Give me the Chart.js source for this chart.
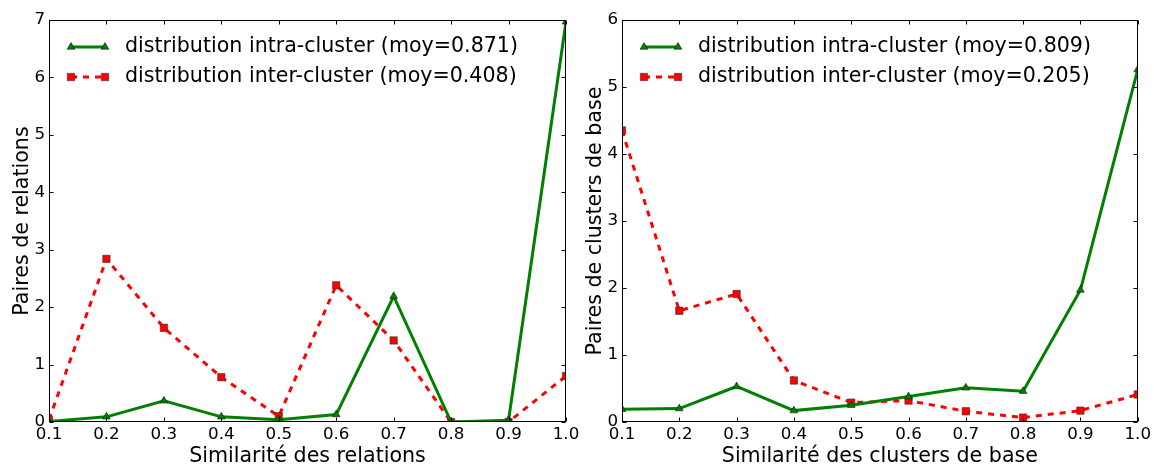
<!DOCTYPE html>
<html>
<head>
<meta charset="utf-8">
<script src="https://cdn.jsdelivr.net/npm/chart.js@4.4.1/dist/chart.umd.min.js"></script>
<style>
  body { margin: 0; background: #fff; width: 1154px; height: 465px; position: relative; overflow: hidden; }
  .panel { position: absolute; top: 0; height: 465px; }
  #leftPanel { left: 0; width: 600px; }
  #rightPanel { left: 577px; width: 577px; }
</style>
</head>
<body>
<div class="panel" id="leftPanel"><canvas id="relationsChart"></canvas></div>
<div class="panel" id="rightPanel"><canvas id="baseChart"></canvas></div>
<script>
// similarity bins (x axis)
const similarity = [0.1, 0.2, 0.3, 0.4, 0.5, 0.6, 0.7, 0.8, 0.9, 1.0];

// left chart: relations
const relIntra = [0.01, 0.09, 0.37, 0.09, 0.04, 0.13, 2.19, 0.0, 0.03, 6.97];
const relInter = [0.04, 2.84, 1.64, 0.78, 0.10, 2.38, 1.42, 0.0, 0.0, 0.80];
const relLabels = ['distribution intra-cluster (moy=0.871)', 'distribution inter-cluster (moy=0.408)'];

// right chart: base clusters
const baseIntra = [0.19, 0.20, 0.53, 0.17, 0.25, 0.38, 0.51, 0.46, 1.97, 5.26];
const baseInter = [4.35, 1.66, 1.91, 0.62, 0.29, 0.32, 0.16, 0.066, 0.17, 0.41];
const baseLabels = ['distribution intra-cluster (moy=0.809)', 'distribution inter-cluster (moy=0.205)'];

const FONT = 'DejaVu Sans';
const GREEN = '#008000';
const RED = '#ff0000';

const toPoints = (ys) => similarity.map((x, i) => ({ x: x, y: ys[i] }));

// matplotlib-like frame with inward ticks on all four sides
const framePlugin = {
  id: 'frame',
  afterDatasetsDraw(chart) {
    const { ctx, chartArea: a, scales } = chart;
    const L = Math.round(a.left) + 0.5, R = Math.round(a.right) - 0.5;
    const T = Math.round(a.top) + 0.5, B = Math.round(a.bottom) - 0.5;
    ctx.save();
    ctx.strokeStyle = '#000';
    ctx.lineWidth = 1;
    ctx.beginPath();
    scales.x.ticks.forEach(t => {
      const px = Math.round(scales.x.getPixelForValue(t.value)) + 0.5;
      ctx.moveTo(px, B); ctx.lineTo(px, B - 4);
      ctx.moveTo(px, T); ctx.lineTo(px, T + 4);
    });
    scales.y.ticks.forEach(t => {
      const py = Math.round(scales.y.getPixelForValue(t.value)) + 0.5;
      ctx.moveTo(L, py); ctx.lineTo(L + 4, py);
      ctx.moveTo(R, py); ctx.lineTo(R - 4, py);
    });
    ctx.stroke();
    ctx.strokeRect(L, T, R - L, B - T);
    ctx.restore();
  }
};

// legend drawn inside the plot, line sample with a marker at each end
const legendPlugin = {
  id: 'innerLegend',
  afterDraw(chart) {
    const { ctx, chartArea: a } = chart;
    const rows = [47, 77];
    ctx.save();
    chart.data.datasets.forEach((ds, i) => {
      const y = rows[i];
      const x1 = a.left + 22, x2 = a.left + 56;
      ctx.strokeStyle = ds.borderColor;
      ctx.lineWidth = ds.borderWidth;
      ctx.setLineDash(ds.borderDash || []);
      ctx.beginPath();
      ctx.moveTo(x1, y); ctx.lineTo(x2, y);
      ctx.stroke();
      ctx.setLineDash([]);
      [x1, x2].forEach(px => {
        ctx.fillStyle = ds.pointBackgroundColor;
        ctx.strokeStyle = ds.pointBorderColor;
        ctx.lineWidth = ds.pointBorderWidth;
        Chart.helpers.drawPoint(ctx, {
          pointStyle: ds.pointStyle, radius: ds.pointRadius,
          borderWidth: ds.pointBorderWidth, rotation: 0
        }, px, y);
      });
      ctx.fillStyle = '#000';
      ctx.font = '20.6px "' + FONT + '"';
      ctx.textBaseline = 'middle';
      ctx.textAlign = 'left';
      ctx.fillText(ds.label, a.left + 76, y);
    });
    ctx.restore();
  }
};

function makeChart(canvasId, intra, inter, labels, yMax, yTitle, xTitle, yWidth, rightPad, titlePad) {
  return new Chart(document.getElementById(canvasId), {
    type: 'line',
    data: {
      datasets: [
        {
          label: labels[0],
          data: toPoints(intra),
          borderColor: GREEN,
          borderWidth: 3,
          pointStyle: 'triangle',
          pointRadius: 4.5,
          pointBackgroundColor: GREEN,
          pointBorderColor: '#000',
          pointBorderWidth: 0.5,
          order: 0,
        },
        {
          label: labels[1],
          data: toPoints(inter),
          borderColor: RED,
          borderWidth: 3,
          borderDash: [6, 6],
          pointStyle: 'rect',
          pointRadius: 5.2,
          pointBackgroundColor: RED,
          pointBorderColor: '#333',
          pointBorderWidth: 0.6,
          order: 1,
        },
      ],
    },
    options: {
      responsive: true,
      maintainAspectRatio: false,
      animation: false,
      layout: { padding: { top: 20, right: rightPad, bottom: 0, left: 0 } },
      plugins: { legend: { display: false }, tooltip: { enabled: false } },
      elements: { line: { tension: 0, borderCapStyle: 'butt' } },
      scales: {
        x: {
          type: 'linear',
          min: 0.1,
          max: 1.0,
          grid: { display: false, drawTicks: false },
          border: { display: false },
          ticks: {
            stepSize: 0.1,
            padding: 3,
            color: '#000',
            font: { family: FONT, size: 16.7 },
            callback: (v) => v.toFixed(1),
          },
          title: {
            display: true,
            text: xTitle,
            color: '#000',
            font: { family: FONT, size: 20.6 },
            padding: { top: 0, bottom: -4 },
          },
          afterFit: (s) => { s.height = 43; },
        },
        y: {
          min: 0,
          max: yMax,
          grid: { display: false, drawTicks: false },
          border: { display: false },
          ticks: {
            stepSize: 1,
            padding: 4,
            color: '#000',
            font: { family: FONT, size: 16.7 },
          },
          title: {
            display: true,
            text: yTitle,
            color: '#000',
            font: { family: FONT, size: 20.6 },
            padding: { top: titlePad, bottom: 0 },
          },
          afterFit: (s) => { s.width = yWidth; },
        },
      },
    },
    plugins: [framePlugin, legendPlugin],
  });
}

makeChart('relationsChart', relIntra, relInter, relLabels, 7,
  'Paires de relations', 'Similarité des relations', 49, 34, 10);
makeChart('baseChart', baseIntra, baseInter, baseLabels, 6,
  'Paires de clusters de base', 'Similarité des clusters de base', 45, 16, 6);
</script>
</body>
</html>
